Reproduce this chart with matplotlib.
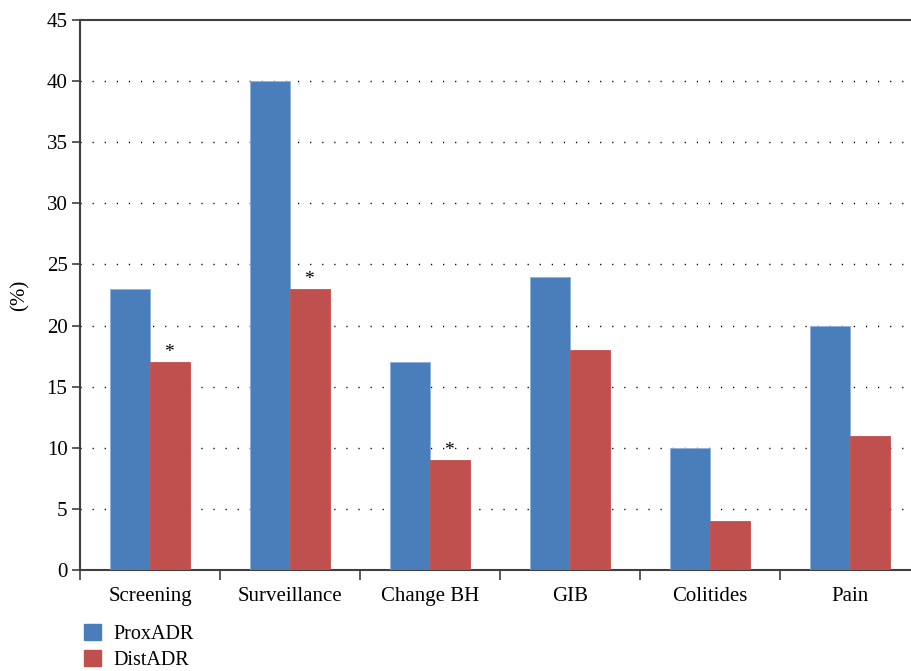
import numpy as np
import matplotlib.pyplot as plt
from matplotlib.patches import Patch

categories = ["Screening", "Surveillance", "Change BH", "GIB", "Colitides", "Pain"]
prox_adr = [23, 40, 17, 24, 10, 20]
dist_adr = [17, 23, 9, 18, 4, 11]
significant = [True, True, True, False, False, False]

blue = "#4a7ebb"
red = "#c0504d"
axis_col = "#404040"

plt.rcParams["font.family"] = ["Liberation Serif", "DejaVu Serif"]

fig = plt.figure(figsize=(9.11, 6.71), dpi=100)
ax = fig.add_axes([80 / 911, 101 / 671, 840 / 911, 550 / 671])

x = np.arange(len(categories))
w = 40 / 140
ax.bar(x - w / 2, prox_adr, w, color=blue, edgecolor="#8fb1dc", linewidth=0.6, zorder=3)
ax.bar(x + w / 2, dist_adr, w, color=red, edgecolor=red, linewidth=0.6, zorder=3)

# asterisk over the DistADR bar where the difference is significant
for xi, v, s in zip(x, dist_adr, significant):
    if s:
        ax.text(xi + w / 2 - 0.01, v + 0.1, "*", ha="center", va="bottom", fontsize=14, zorder=4)

ax.set_xlim(-0.5, len(categories) - 0.5)
ax.set_ylim(0, 45)
ax.set_yticks(range(0, 46, 5))
ax.set_xticks(x)
ax.set_xticklabels(categories)
ax.set_xticks(np.arange(-0.5, len(categories), 1), minor=True)
ax.tick_params(axis="x", which="major", length=0, pad=12, labelsize=15)
ax.tick_params(axis="x", which="minor", length=7, width=1.2, color=axis_col)
ax.tick_params(axis="y", length=6, width=1.2, color=axis_col, labelsize=15, pad=3)

for y in range(5, 45, 5):
    ax.axhline(y, color="black", lw=1, ls=(0, (0.9, 7.8)), zorder=1)

for side in ["left", "bottom", "top"]:
    ax.spines[side].set_color(axis_col)
    ax.spines[side].set_linewidth(1.5)
ax.spines["right"].set_visible(False)

ax.set_ylabel("(%)", fontsize=15, labelpad=12)

handles = [Patch(color=blue, label="ProxADR"), Patch(color=red, label="DistADR")]
fig.legend(handles=handles, loc="upper left", bbox_to_anchor=(70 / 911, 1 - 610 / 671),
           frameon=False, fontsize=14.5, handlelength=0.85, handleheight=0.85,
           handletextpad=0.6, labelspacing=0.3, borderpad=0.2)

fig.savefig("out.png", dpi=100)
